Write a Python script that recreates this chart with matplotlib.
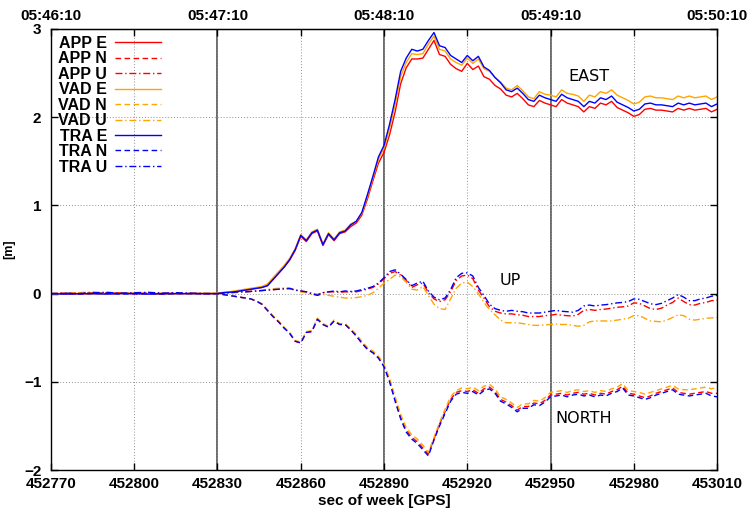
import matplotlib
matplotlib.use("Agg")
import matplotlib.pyplot as plt

# time axis [s of GPS week]: coarse in the quiet part, 2 s afterwards
t_quiet = list(range(452770, 452830, 5))
t_move = list(range(452830, 453011, 2))
t = t_quiet + t_move

# quiet part (452770 .. 452825)
app_e_q = [0.0, 0.0, -0.005, 0.0, 0.0, 0.005, 0.0, 0.0, -0.005, 0.0, 0.0, 0.0]
app_n_q = [0.0, 0.005, 0.01, 0.01, 0.005, 0.01, 0.0, 0.005, 0.0, 0.005, 0.0, 0.0]
app_u_q = [0.0, -0.005, 0.01, 0.015, 0.005, 0.01, 0.0, 0.01, 0.005, 0.0, 0.005, 0.0]
vad_e_q = [0.0, 0.0, 0.0, -0.005, 0.0, 0.0, 0.005, 0.0, 0.0, -0.005, 0.0, 0.005]
vad_n_q = [0.0, 0.0, 0.01, 0.005, 0.01, 0.0, 0.005, 0.0, 0.005, 0.0, 0.0, 0.0]
vad_u_q = [0.0, 0.005, 0.0, 0.01, 0.0, 0.005, 0.01, 0.0, 0.005, 0.0, 0.0, 0.0]
tra_e_q = [0.0, -0.005, 0.0, 0.0, -0.005, 0.0, 0.0, -0.005, 0.0, 0.0, 0.0, 0.0]
tra_n_q = [0.0, 0.0, -0.005, 0.0, 0.005, -0.005, 0.0, 0.0, -0.005, 0.0, 0.0, 0.0]
tra_u_q = [0.0, 0.005, 0.0, 0.01, 0.015, 0.005, 0.01, 0.015, 0.005, 0.01, 0.005, 0.0]

# EAST
tra_e = [0.0, 0.01, 0.015, 0.02, 0.03, 0.04, 0.05, 0.06, 0.07, 0.09,
         0.16, 0.23, 0.30, 0.385, 0.50, 0.66, 0.60, 0.69, 0.72, 0.555,
         0.68, 0.61, 0.69, 0.71, 0.78, 0.82, 0.92, 1.12, 1.33, 1.55,
         1.68, 1.92, 2.20, 2.52, 2.67, 2.77, 2.75, 2.77, 2.87, 2.96,
         2.81, 2.79, 2.70, 2.66, 2.62, 2.70, 2.64, 2.69, 2.57, 2.53,
         2.45, 2.39, 2.31, 2.29, 2.33, 2.27, 2.20, 2.18, 2.25, 2.22,
         2.20, 2.18, 2.26, 2.22, 2.20, 2.18, 2.12, 2.18, 2.16, 2.22,
         2.20, 2.24, 2.17, 2.14, 2.11, 2.07, 2.09, 2.15, 2.16, 2.14,
         2.14, 2.13, 2.12, 2.16, 2.14, 2.16, 2.14, 2.15, 2.16, 2.12,
         2.15]
app_e = [0.0, 0.01, 0.015, 0.02, 0.03, 0.04, 0.05, 0.06, 0.07, 0.09,
         0.16, 0.23, 0.30, 0.38, 0.49, 0.65, 0.59, 0.68, 0.71, 0.545,
         0.67, 0.60, 0.68, 0.70, 0.76, 0.80, 0.89, 1.07, 1.28, 1.48,
         1.60, 1.80, 2.06, 2.38, 2.56, 2.66, 2.66, 2.67, 2.77, 2.87,
         2.71, 2.69, 2.60, 2.55, 2.52, 2.61, 2.54, 2.58, 2.46, 2.43,
         2.36, 2.32, 2.25, 2.23, 2.27, 2.21, 2.14, 2.12, 2.19, 2.16,
         2.14, 2.12, 2.20, 2.16, 2.14, 2.12, 2.06, 2.12, 2.10, 2.16,
         2.14, 2.18, 2.11, 2.08, 2.05, 2.01, 2.03, 2.09, 2.10, 2.08,
         2.08, 2.07, 2.06, 2.10, 2.08, 2.10, 2.08, 2.09, 2.10, 2.06,
         2.09]
vad_e = [0.005, 0.015, 0.02, 0.03, 0.04, 0.05, 0.06, 0.07, 0.08, 0.11,
         0.18, 0.25, 0.32, 0.40, 0.51, 0.67, 0.61, 0.70, 0.73, 0.565,
         0.69, 0.62, 0.70, 0.72, 0.79, 0.82, 0.91, 1.10, 1.31, 1.52,
         1.65, 1.87, 2.14, 2.46, 2.62, 2.72, 2.71, 2.72, 2.83, 2.92,
         2.77, 2.75, 2.66, 2.62, 2.59, 2.67, 2.61, 2.66, 2.55, 2.52,
         2.45, 2.40, 2.33, 2.31, 2.36, 2.30, 2.23, 2.21, 2.29, 2.26,
         2.25, 2.23, 2.31, 2.27, 2.26, 2.24, 2.18, 2.25, 2.23, 2.29,
         2.27, 2.31, 2.25, 2.22, 2.19, 2.15, 2.17, 2.23, 2.24, 2.22,
         2.22, 2.21, 2.20, 2.24, 2.22, 2.24, 2.22, 2.23, 2.24, 2.20,
         2.23]

# NORTH
tra_n = [0.0, -0.01, -0.02, -0.03, -0.04, -0.05, -0.06, -0.085, -0.12, -0.19,
         -0.26, -0.32, -0.39, -0.45, -0.54, -0.56, -0.44, -0.43, -0.29, -0.35,
         -0.38, -0.31, -0.35, -0.35, -0.41, -0.48, -0.56, -0.63, -0.67, -0.73,
         -0.83, -1.00, -1.22, -1.42, -1.57, -1.65, -1.70, -1.77, -1.84, -1.66,
         -1.50, -1.36, -1.22, -1.14, -1.12, -1.13, -1.11, -1.15, -1.10, -1.08,
         -1.13, -1.22, -1.25, -1.29, -1.34, -1.30, -1.30, -1.26, -1.27, -1.23,
         -1.17, -1.16, -1.15, -1.17, -1.15, -1.14, -1.16, -1.15, -1.17, -1.15,
         -1.16, -1.13, -1.11, -1.07, -1.15, -1.16, -1.18, -1.20, -1.18, -1.15,
         -1.13, -1.11, -1.09, -1.14, -1.15, -1.16, -1.15, -1.14, -1.13, -1.16,
         -1.17]
app_n = [0.0, -0.01, -0.02, -0.03, -0.04, -0.05, -0.06, -0.085, -0.12, -0.19,
         -0.26, -0.32, -0.39, -0.45, -0.54, -0.56, -0.44, -0.43, -0.29, -0.35,
         -0.38, -0.31, -0.35, -0.35, -0.41, -0.48, -0.56, -0.63, -0.67, -0.73,
         -0.82, -0.98, -1.20, -1.40, -1.55, -1.63, -1.68, -1.75, -1.82, -1.65,
         -1.48, -1.34, -1.20, -1.12, -1.10, -1.11, -1.09, -1.13, -1.08, -1.06,
         -1.11, -1.20, -1.23, -1.27, -1.32, -1.28, -1.28, -1.24, -1.25, -1.21,
         -1.15, -1.14, -1.13, -1.15, -1.13, -1.12, -1.14, -1.13, -1.15, -1.13,
         -1.14, -1.11, -1.09, -1.05, -1.13, -1.14, -1.16, -1.18, -1.16, -1.13,
         -1.11, -1.09, -1.07, -1.12, -1.13, -1.14, -1.13, -1.12, -1.11, -1.13,
         -1.13]
vad_n = [0.0, -0.01, -0.02, -0.03, -0.04, -0.05, -0.06, -0.08, -0.115, -0.18,
         -0.25, -0.31, -0.38, -0.44, -0.53, -0.55, -0.43, -0.42, -0.28, -0.34,
         -0.37, -0.30, -0.34, -0.34, -0.40, -0.46, -0.54, -0.61, -0.65, -0.71,
         -0.80, -0.96, -1.17, -1.37, -1.52, -1.60, -1.65, -1.72, -1.80, -1.63,
         -1.46, -1.31, -1.17, -1.10, -1.07, -1.08, -1.06, -1.10, -1.05, -1.03,
         -1.08, -1.17, -1.20, -1.24, -1.29, -1.25, -1.25, -1.21, -1.22, -1.18,
         -1.12, -1.11, -1.10, -1.12, -1.10, -1.09, -1.11, -1.10, -1.12, -1.10,
         -1.11, -1.08, -1.06, -1.02, -1.10, -1.11, -1.12, -1.14, -1.12, -1.10,
         -1.08, -1.06, -1.04, -1.08, -1.09, -1.09, -1.08, -1.07, -1.06, -1.08,
         -1.06]

# UP
tra_u = [0.0, 0.005, 0.01, 0.015, 0.02, 0.02, 0.025, 0.03, 0.035, 0.04,
         0.045, 0.05, 0.055, 0.06, 0.04, 0.03, 0.02, 0.0, -0.02, 0.01,
         0.02, 0.03, 0.02, 0.03, 0.025, 0.03, 0.045, 0.06, 0.08, 0.12,
         0.18, 0.25, 0.27, 0.22, 0.16, 0.09, 0.12, 0.14, 0.03, -0.04,
         -0.07, -0.05, 0.045, 0.18, 0.23, 0.235, 0.20, 0.07, -0.02, -0.12,
         -0.17, -0.19, -0.20, -0.19, -0.20, -0.205, -0.22, -0.22, -0.22, -0.21,
         -0.20, -0.19, -0.20, -0.205, -0.21, -0.19, -0.14, -0.13, -0.14, -0.13,
         -0.125, -0.115, -0.105, -0.10, -0.09, -0.06, -0.065, -0.09, -0.115, -0.125,
         -0.11, -0.08, -0.05, -0.01, -0.04, -0.08, -0.08, -0.06, -0.05, -0.03,
         -0.02]
app_u = [0.0, 0.005, 0.01, 0.015, 0.02, 0.02, 0.025, 0.03, 0.035, 0.04,
         0.045, 0.05, 0.055, 0.055, 0.04, 0.03, 0.02, 0.0, -0.01, 0.01,
         0.02, 0.02, 0.015, 0.02, 0.02, 0.02, 0.035, 0.05, 0.07, 0.11,
         0.17, 0.23, 0.25, 0.21, 0.15, 0.07, 0.10, 0.12, 0.01, -0.06,
         -0.09, -0.07, 0.02, 0.15, 0.20, 0.21, 0.17, 0.04, -0.05, -0.15,
         -0.20, -0.22, -0.23, -0.23, -0.24, -0.245, -0.26, -0.26, -0.26, -0.25,
         -0.245, -0.235, -0.245, -0.25, -0.255, -0.235, -0.19, -0.18, -0.19, -0.18,
         -0.175, -0.165, -0.155, -0.15, -0.14, -0.105, -0.11, -0.14, -0.17, -0.18,
         -0.165, -0.13, -0.10, -0.05, -0.09, -0.125, -0.13, -0.11, -0.10, -0.08,
         -0.075]
vad_u = [0.0, 0.0, 0.005, 0.01, 0.015, 0.02, 0.025, 0.03, 0.035, 0.045,
         0.055, 0.06, 0.065, 0.06, 0.04, 0.02, 0.01, -0.01, -0.02, -0.01,
         -0.02, -0.03, -0.04, -0.05, -0.05, -0.045, -0.035, -0.02, 0.01, 0.06,
         0.12, 0.16, 0.21, 0.19, 0.13, 0.05, 0.04, 0.08, -0.02, -0.12,
         -0.17, -0.18, -0.06, 0.06, 0.12, 0.13, 0.08, 0.0, -0.10, -0.18,
         -0.24, -0.30, -0.33, -0.33, -0.33, -0.34, -0.35, -0.36, -0.36, -0.355,
         -0.35, -0.345, -0.35, -0.35, -0.36, -0.37, -0.36, -0.32, -0.31, -0.31,
         -0.31, -0.31, -0.30, -0.29, -0.28, -0.25, -0.25, -0.28, -0.31, -0.315,
         -0.32, -0.30, -0.27, -0.24, -0.25, -0.29, -0.30, -0.29, -0.28, -0.275,
         -0.27]

series = [
    ("APP E", app_e_q + app_e, "red", "-"),
    ("APP N", app_n_q + app_n, "red", "--"),
    ("APP U", app_u_q + app_u, "red", "-."),
    ("VAD E", vad_e_q + vad_e, "#ffa500", "-"),
    ("VAD N", vad_n_q + vad_n, "#ffa500", "--"),
    ("VAD U", vad_u_q + vad_u, "#ffa500", "-."),
    ("TRA E", tra_e_q + tra_e, "#0000ff", "-"),
    ("TRA N", tra_n_q + tra_n, "#0000ff", "--"),
    ("TRA U", tra_u_q + tra_u, "#0000ff", "-."),
]

xticks = [452770, 452800, 452830, 452860, 452890, 452920, 452950, 452980, 453010]
utc_ticks = [452770, 452830, 452890, 452950, 453010]
utc_labels = ["05:46:10", "05:47:10", "05:48:10", "05:49:10", "05:50:10"]
marks = [452830, 452890, 452950]

plt.rcParams['font.family'] = ['Liberation Sans', 'DejaVu Sans']

fig = plt.figure(figsize=(7.52, 5.16), dpi=100)
ax = fig.add_axes([0.0678, 0.0891, 0.8857, 0.8547])

for x in marks:
    ax.axvline(x, color="#606060", lw=1.3, zorder=1)

dash_styles = {"-": None, "--": (4, 2.5), "-.": (5, 2, 1, 2)}
for name, vals, col, ls in series:
    line, = ax.plot(t, vals, color=col, lw=1.0, label=name, zorder=2)
    if dash_styles[ls] is not None:
        line.set_dashes(dash_styles[ls])

ax.set_xlim(452770, 453010)
ax.set_ylim(-2, 3)
ax.set_xticks(xticks)
ax.set_yticks([-2, -1, 0, 1, 2, 3])
ax.grid(True, color="#909090", ls=(0, (1, 2)), lw=0.7)
ax.tick_params(direction="in", length=5, top=True, right=True, labeltop=False,
               labelsize=11, width=1)
ax.tick_params(axis="x", pad=5)
ax.tick_params(axis="y", pad=7)
for lab in ax.get_xticklabels() + ax.get_yticklabels():
    lab.set_fontweight("bold")

top = ax.secondary_xaxis("top")
top.set_xticks(utc_ticks)
top.set_xticklabels(utc_labels, fontweight="bold", fontsize=11)
top.tick_params(direction="in", length=0, pad=4)

ax.set_xlabel("sec of week [GPS]", fontweight="bold", fontsize=11, labelpad=2)
ax.set_ylabel("[m]", fontweight="bold", fontsize=9)
ax.yaxis.set_label_coords(-0.054, 0.5)

ax.text(452956.3, 2.46, "EAST", fontsize=11.5, family="DejaVu Sans", va="center")
ax.text(452931.8, 0.15, "UP", fontsize=11.5, family="DejaVu Sans", va="center")
ax.text(452951.6, -1.42, "NORTH", fontsize=11.5, family="DejaVu Sans", va="center")

leg = ax.legend(loc="upper left", bbox_to_anchor=(0.006, 0.992), frameon=False,
                markerfirst=False, handlelength=2.9, handletextpad=0.5,
                labelspacing=0.03, borderaxespad=0, borderpad=0.2,
                prop={"weight": "bold", "size": 11.5})

for s in ax.spines.values():
    s.set_linewidth(1.0)

fig.savefig("out.png", dpi=100)
